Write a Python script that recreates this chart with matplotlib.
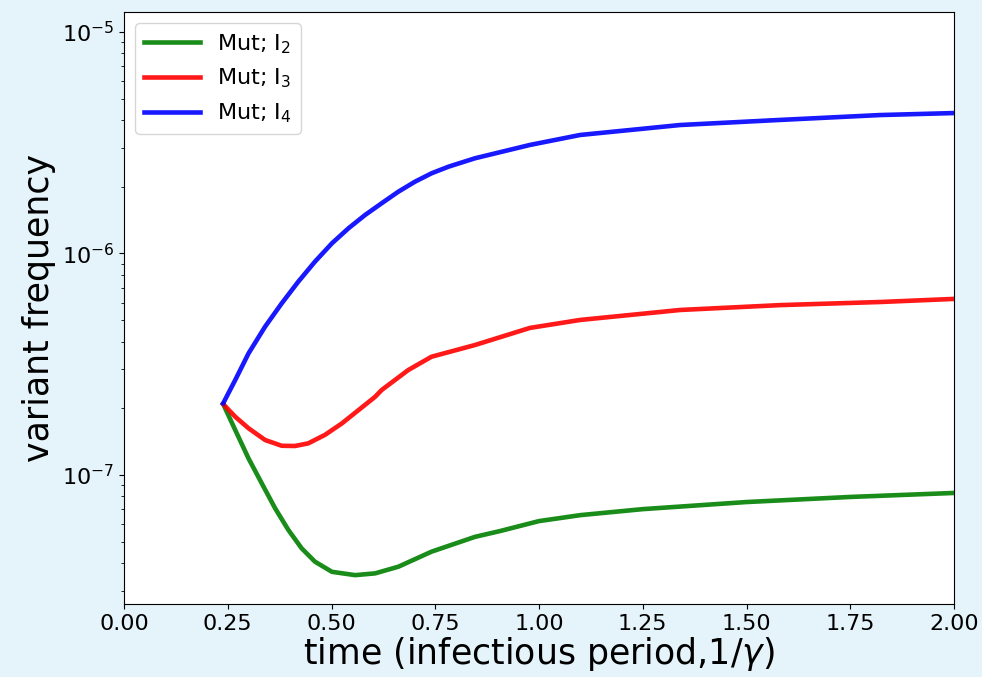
import matplotlib
matplotlib.use("Agg")
import matplotlib.pyplot as plt
import numpy as np

# Values (time, log10 of variant frequency)
t_i2 = [0.239, 0.268, 0.300, 0.332, 0.364, 0.396, 0.428, 0.460, 0.501, 0.557, 0.605,
        0.661, 0.741, 0.846, 0.906, 1.000, 1.100, 1.250, 1.500, 1.750, 2.000]
log_i2 = [-6.680, -6.797, -6.925, -7.038, -7.150, -7.248, -7.331, -7.391, -7.437, -7.452, -7.444,
          -7.414, -7.346, -7.279, -7.253, -7.208, -7.181, -7.154, -7.122, -7.099, -7.081]

t_i3 = [0.239, 0.268, 0.300, 0.340, 0.380, 0.412, 0.444, 0.484, 0.525, 0.565, 0.605,
        0.621, 0.685, 0.741, 0.846, 0.978, 1.099, 1.340, 1.581, 1.822, 2.000]
log_i3 = [-6.680, -6.737, -6.789, -6.842, -6.868, -6.869, -6.857, -6.819, -6.767, -6.707, -6.647,
          -6.616, -6.526, -6.466, -6.413, -6.336, -6.300, -6.255, -6.233, -6.219, -6.205]

t_i4 = [0.239, 0.268, 0.300, 0.340, 0.380, 0.420, 0.460, 0.501, 0.541, 0.581, 0.621,
        0.661, 0.701, 0.741, 0.782, 0.846, 0.978, 1.099, 1.340, 1.581, 1.822, 2.000]
log_i4 = [-6.676, -6.571, -6.451, -6.330, -6.225, -6.127, -6.037, -5.954, -5.886, -5.826, -5.773,
          -5.721, -5.676, -5.638, -5.608, -5.570, -5.510, -5.465, -5.420, -5.397, -5.375, -5.366]

labels = [r"Mut; I$_2$", r"Mut; I$_3$", r"Mut; I$_4$"]
colors = ["g", "r", "b"]

bg = "#e5f3fa"
fig = plt.figure(figsize=(9.82, 6.77), dpi=100, facecolor=bg)
ax = fig.add_axes([0.1263, 0.1078, 0.9715 - 0.1263, 0.9823 - 0.1078])
for tt, ly, lab, c in zip([t_i2, t_i3, t_i4], [log_i2, log_i3, log_i4], labels, colors):
    ax.plot(tt, 10.0 ** np.array(ly), color=c, alpha=0.9, lw=3.3, label=lab,
            solid_joinstyle="round")
ax.set_yscale("log")
ax.set_xlim(0, 2)
ax.set_ylim(2.616e-8, 1.231e-5)
ax.set_xticks([0, 0.25, 0.5, 0.75, 1.0, 1.25, 1.5, 1.75, 2.0])
ax.tick_params(labelsize=16)
ax.set_xlabel(r"time (infectious period,1/$\gamma$)", fontsize=25, labelpad=1)
ax.set_ylabel("variant frequency", fontsize=25)
ax.legend(loc="upper left", fontsize=16, handlelength=2.5)
fig.savefig("out.png", dpi=100, facecolor=bg)
